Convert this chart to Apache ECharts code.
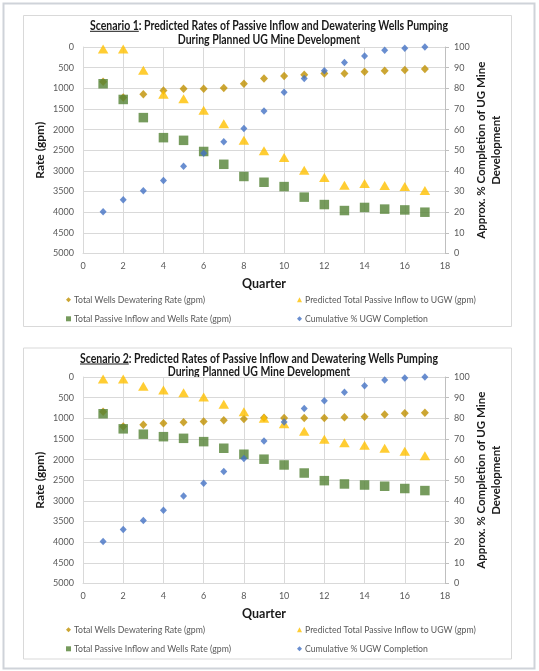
<!DOCTYPE html>
<html>
<head>
<meta charset="utf-8">
<script src="https://cdn.jsdelivr.net/npm/echarts@6/dist/echarts.min.js"></script>
<style>
html,body{margin:0;padding:0;background:#fff;}
#c{width:539px;height:671px;}
</style>
</head>
<body>
<div id="c"></div>
<script>
// ---- data ----
const quarters = [1, 2, 3, 4, 5, 6, 7, 8, 9, 10, 11, 12, 13, 14, 15, 16, 17];
const s1Dewater = [840, 1220, 1145, 1055, 1010, 1010, 990, 890, 765, 700, 670, 640, 640, 600, 575, 555, 530];
const s1Passive = [50, 50, 565, 1145, 1250, 1530, 1860, 2260, 2515, 2675, 2985, 3160, 3345, 3305, 3355, 3380, 3475];
const s1Total = [890, 1270, 1710, 2195, 2260, 2530, 2840, 3135, 3275, 3380, 3635, 3815, 3960, 3885, 3925, 3945, 4000];
const s1Completion = [20.2, 26, 30.4, 35.3, 42.2, 48.5, 54.1, 60.5, 69, 78.1, 84.7, 88.5, 92.5, 95.6, 98.4, 99.4, 100];
const s2Dewater = [840, 1200, 1155, 1120, 1095, 1080, 1050, 1015, 985, 990, 990, 990, 975, 960, 910, 880, 865];
const s2Passive = [50, 50, 225, 315, 380, 485, 660, 840, 1000, 1130, 1315, 1510, 1595, 1655, 1725, 1800, 1905];
const s2Total = [890, 1255, 1385, 1445, 1485, 1565, 1725, 1870, 1990, 2130, 2325, 2510, 2590, 2615, 2645, 2700, 2750];
const s2Completion = [20.3, 26.1, 30.5, 35.5, 42.4, 48.5, 54.2, 60.5, 69, 78.2, 84.7, 88.5, 92.6, 95.8, 98.5, 99.5, 100];
const seriesNames = ['Total Wells Dewatering Rate (gpm)', 'Predicted Total Passive Inflow to UGW (gpm)', 'Total Passive Inflow and Wells Rate (gpm)', 'Cumulative % UGW Completion'];
const titleLine1 = ['Scenario 1: Predicted Rates of Passive Inflow and Dewatering Wells Pumping', 'Scenario 2: Predicted Rates of Passive Inflow and Dewatering Wells Pumping'];
const titleUnderlined = ['Scenario 1', 'Scenario 2'];
const titleLine2 = 'During Planned UG Mine Development';
const leftAxisName = 'Rate (gpm)';
const rightAxisName = 'Approx. % Completion of UG Mine\nDevelopment';
const xAxisName = 'Quarter';

// ---- helpers ----
const FONT = 'Lato';
const pair = arr => quarters.map((q, i) => [q, arr[i]]);
const mctx = document.createElement('canvas').getContext('2d');
function measure(text, font) { mctx.font = font; return mctx.measureText(text).width; }

const chart = echarts.init(document.getElementById('c'), null, {renderer: 'canvas'});

const offsets = [0, 330];
const boxTops = [15.5, 348];
const titleCx = [269, 259];
const titleY1 = [25.8, 358.5];
const titleTargetW = 358;
const titleFontSize = 12.5;
const titleFont = 'bold ' + titleFontSize + 'px ' + FONT;

const graphic = [{
  type: 'rect', shape: {x: 3.5, y: 3.5, width: 531, height: 665},
  style: {fill: 'none', stroke: '#cfd3d9', lineWidth: 2}, silent: true
}];
[0, 1].forEach(k => {
  graphic.push({
    type: 'rect', shape: {x: 23.5, y: boxTops[k], width: 488, height: 311},
    style: {fill: 'none', stroke: '#d9d9d9', lineWidth: 1}, silent: true
  });
  const w1 = measure(titleLine1[k], titleFont);
  const sx = titleTargetW / w1;
  const wu = measure(titleUnderlined[k], titleFont) * sx;
  const startX = titleCx[k] - titleTargetW / 2;
  graphic.push({
    type: 'text', x: titleCx[k], y: titleY1[k], scaleX: sx, silent: true,
    style: {text: titleLine1[k], fontSize: titleFontSize, fontWeight: 'bold', fontFamily: FONT,
      fill: '#1a1a1a', align: 'center', verticalAlign: 'middle'}
  });
  graphic.push({
    type: 'text', x: titleCx[k], y: titleY1[k] + 13.7, scaleX: sx, silent: true,
    style: {text: titleLine2, fontSize: titleFontSize, fontWeight: 'bold', fontFamily: FONT,
      fill: '#1a1a1a', align: 'center', verticalAlign: 'middle'}
  });
  graphic.push({
    type: 'line', silent: true,
    shape: {x1: startX, y1: titleY1[k] + 5.5, x2: startX + wu, y2: titleY1[k] + 5.5},
    style: {stroke: '#1a1a1a', lineWidth: 1}
  });
});

const labelStyle = {color: '#595959', fontSize: 9, fontFamily: FONT};
const gridLine = {lineStyle: {color: '#d9d9d9', width: 1}};

const grids = [], xAxes = [], yAxes = [], series = [], legends = [];
const datasets = [
  [s1Dewater, s1Passive, s1Total, s1Completion],
  [s2Dewater, s2Passive, s2Total, s2Completion]
];
[0, 1].forEach(k => {
  grids.push({left: 83, top: 47 + offsets[k], width: 362, height: 206.5});
  xAxes.push({
    gridIndex: k, type: 'value', min: 0, max: 18, interval: 2,
    axisLine: {show: true, onZero: false, lineStyle: {color: '#d9d9d9'}},
    axisTick: {show: false}, splitLine: gridLine,
    axisLabel: Object.assign({margin: 8}, labelStyle),
    name: xAxisName, nameLocation: 'middle', nameGap: 24, nameMoveOverlap: false,
    nameTextStyle: {fontSize: 12.5, fontWeight: 'bold', fontFamily: FONT, color: '#1a1a1a'}
  });
  yAxes.push({
    gridIndex: k, type: 'value', inverse: true, min: 0, max: 5000, interval: 500,
    axisLine: {show: true, lineStyle: {color: '#d9d9d9'}},
    axisTick: {show: false}, splitLine: gridLine,
    axisLabel: Object.assign({margin: 9, formatter: v => String(v)}, labelStyle),
    name: leftAxisName, nameLocation: 'middle', nameGap: 37, nameMoveOverlap: false,
    nameTextStyle: {fontSize: 12, fontWeight: 'bold', fontFamily: FONT, color: '#1a1a1a'}
  });
  yAxes.push({
    gridIndex: k, type: 'value', position: 'right', min: 0, max: 100, interval: 10,
    axisLine: {show: true, lineStyle: {color: '#bfbfbf'}},
    axisTick: {show: true, inside: false, length: 4, lineStyle: {color: '#bfbfbf'}},
    splitLine: {show: false},
    axisLabel: Object.assign({margin: 9}, labelStyle),
    name: rightAxisName, nameLocation: 'middle', nameGap: 29, nameRotate: 90, nameMoveOverlap: false,
    nameTextStyle: {fontSize: 11.5, fontWeight: 'bold', fontFamily: FONT, color: '#1a1a1a', lineHeight: 15, align: 'center'}
  });
  const d = datasets[k];
  series.push({
    name: seriesNames[0], type: 'scatter', xAxisIndex: k, yAxisIndex: 2 * k,
    symbol: 'diamond', symbolSize: [8, 8.5], data: pair(d[0]),
    itemStyle: {color: '#BF9000'}, z: 2
  });
  series.push({
    name: seriesNames[1], type: 'scatter', xAxisIndex: k, yAxisIndex: 2 * k,
    symbol: 'triangle', symbolSize: [10.5, 9], data: pair(d[1]),
    itemStyle: {color: '#FFC000'}, z: 3
  });
  series.push({
    name: seriesNames[2], type: 'scatter', xAxisIndex: k, yAxisIndex: 2 * k,
    symbol: 'rect', symbolSize: 9.5, data: pair(d[2]),
    itemStyle: {color: '#548235'}, z: 4
  });
  series.push({
    name: seriesNames[3], type: 'scatter', xAxisIndex: k, yAxisIndex: 2 * k + 1,
    symbol: 'diamond', symbolSize: [7, 7.5], data: pair(d[3]),
    itemStyle: {color: '#4472C4'}, z: 5
  });
  const legTop = 293.8 + offsets[k];
  const legCommon = {
    orient: 'vertical', top: legTop, itemWidth: 5, itemHeight: 5, itemGap: 7,
    padding: 0, selectedMode: false,
    itemStyle: {borderWidth: 0},
    textStyle: {color: '#595959', fontSize: 8.7, fontFamily: FONT, lineHeight: 12, padding: [0, 0, 0, -2]}
  };
  legends.push(Object.assign({}, legCommon, {
    left: 66,
    data: [{name: seriesNames[0], icon: 'diamond'}, {name: seriesNames[2], icon: 'rect'}]
  }));
  legends.push(Object.assign({}, legCommon, {
    left: 297,
    data: [{name: seriesNames[1], icon: 'triangle'}, {name: seriesNames[3], icon: 'diamond'}]
  }));
});

chart.setOption({
  animation: false,
  backgroundColor: '#ffffff',
  textStyle: {fontFamily: FONT},
  grid: grids, xAxis: xAxes, yAxis: yAxes, series: series, legend: legends,
  graphic: graphic
});
</script>
</body>
</html>
